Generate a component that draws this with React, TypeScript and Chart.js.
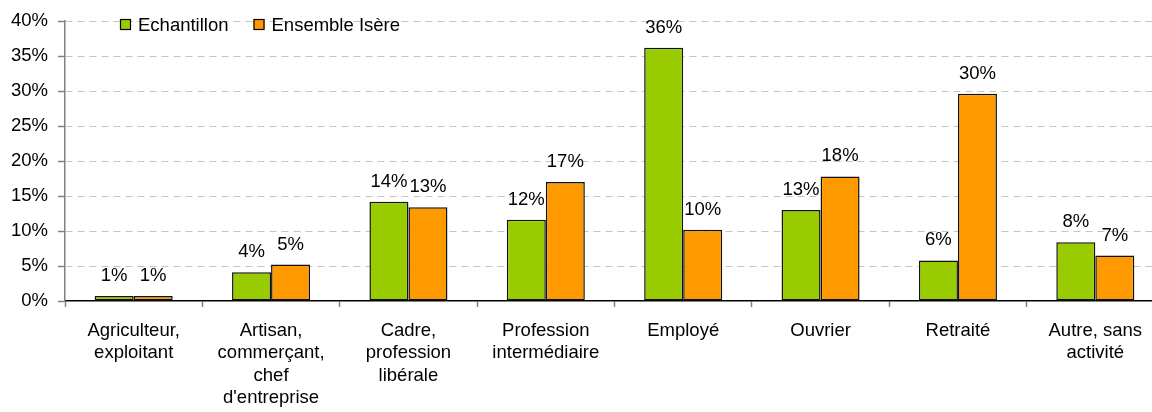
import { useEffect, useRef } from 'react';
import { Chart, registerables } from 'chart.js';

Chart.register(...registerables);

const categories: string[][] = [
  ['Agriculteur,', 'exploitant'],
  ['Artisan,', 'commerçant,', 'chef', "d'entreprise"],
  ['Cadre,', 'profession', 'libérale'],
  ['Profession', 'intermédiaire'],
  ['Employé'],
  ['Ouvrier'],
  ['Retraité'],
  ['Autre, sans', 'activité'],
];

const seriesNames = ['Echantillon', 'Ensemble Isère'];
const echantillon = [0.7, 4.1, 14.2, 11.6, 36.2, 13.0, 5.8, 8.4];
const ensembleIsere = [0.7, 5.2, 13.4, 17.0, 10.2, 17.8, 29.6, 6.5];

const yTicksMin = 0;
const yTicksMax = 40;
const yTicksStep = 5;

const FONT = "'Liberation Sans', Arial, sans-serif";
const FONT_SIZE = 18.5;
const GREEN = '#99CC00';
const ORANGE = '#FF9900';

const valueLabels = {
  id: 'valueLabels',
  afterDatasetsDraw(chart: any) {
    const ctx = chart.ctx;
    ctx.save();
    ctx.font = `${FONT_SIZE}px ${FONT}`;
    ctx.fillStyle = '#000';
    ctx.textAlign = 'center';
    ctx.textBaseline = 'alphabetic';
    chart.data.datasets.forEach((ds: any, di: number) => {
      const meta = chart.getDatasetMeta(di);
      meta.data.forEach((el: any, i: number) => {
        const v = ds.data[i] as number;
        ctx.fillText(Math.round(v) + '%', el.x, el.y - 15);
      });
    });
    ctx.restore();
  },
};

const floatingLegend = {
  id: 'floatingLegend',
  afterDraw(chart: any) {
    const ctx = chart.ctx;
    ctx.save();
    ctx.font = `${FONT_SIZE}px ${FONT}`;
    ctx.textAlign = 'left';
    ctx.textBaseline = 'middle';
    let x = 120;
    const y = 19;
    const box = 11;
    chart.data.datasets.forEach((ds: any) => {
      ctx.fillStyle = ds.backgroundColor;
      ctx.fillRect(x, y, box, box);
      ctx.lineWidth = 1.2;
      ctx.strokeStyle = '#000';
      ctx.strokeRect(x + 0.5, y + 0.5, box - 1, box - 1);
      ctx.fillStyle = '#000';
      const tx = x + box + 7;
      ctx.fillText(ds.label, tx, y + box / 2 + 1);
      x = tx + ctx.measureText(ds.label).width + 25;
    });
    ctx.restore();
  },
};

export default function App() {
  const ref = useRef<HTMLCanvasElement | null>(null);

  useEffect(() => {
    if (!ref.current) return;
    const chart = new Chart(ref.current, {
      type: 'bar',
      data: {
        labels: categories,
        datasets: [
          {
            label: seriesNames[0],
            data: echantillon,
            backgroundColor: GREEN,
            borderColor: '#111',
            borderWidth: 1.5,
            borderSkipped: false,
            categoryPercentage: 0.568,
            barPercentage: 1,
          },
          {
            label: seriesNames[1],
            data: ensembleIsere,
            backgroundColor: ORANGE,
            borderColor: '#111',
            borderWidth: 1.5,
            borderSkipped: false,
            categoryPercentage: 0.568,
            barPercentage: 1,
          },
        ],
      },
      options: {
        animation: false,
        responsive: false,
        maintainAspectRatio: false,
        layout: { padding: { top: 20, right: 36, bottom: 0, left: 0 } },
        plugins: {
          legend: { display: false },
          tooltip: { enabled: false },
        },
        scales: {
          x: {
            offset: true,
            grid: {
              display: true,
              offset: true,
              drawOnChartArea: false,
              drawTicks: true,
              tickLength: 6,
              tickColor: '#808080',
              tickWidth: 1.5,
            },
            border: { display: true, color: '#000', width: 1.5 },
            ticks: {
              autoSkip: false,
              maxRotation: 0,
              minRotation: 0,
              padding: 13,
              color: '#000',
              font: { family: FONT, size: FONT_SIZE, lineHeight: 1.2 },
            },
            afterFit: (scale: any) => {
              scale.height = 111;
            },
          },
          y: {
            min: yTicksMin,
            max: yTicksMax,
            ticks: {
              stepSize: yTicksStep,
              padding: 10,
              color: '#000',
              font: { family: FONT, size: FONT_SIZE },
              callback: (v: any) => v + '%',
            },
            grid: {
              color: (c: any) => (c.tick && c.tick.value === 0 ? 'rgba(0,0,0,0)' : '#c4c4c4'),
              lineWidth: 1,
              tickLength: 7,
              tickColor: '#808080',
              tickWidth: 1.5,
            },
            border: { display: true, color: '#808080', width: 1.5, dash: [7, 5] },
            afterFit: (scale: any) => {
              scale.width = 65;
            },
          },
        },
      },
      plugins: [valueLabels, floatingLegend],
    });
    return () => chart.destroy();
  }, []);

  return (
    <div
      style={{
        position: 'fixed',
        left: 0,
        top: 0,
        width: 1152,
        height: 412,
        overflow: 'hidden',
        background: '#fff',
      }}
    >
      <canvas ref={ref} width={1200} height={412} style={{ display: 'block', width: 1200, height: 412 }} />
    </div>
  );
}
